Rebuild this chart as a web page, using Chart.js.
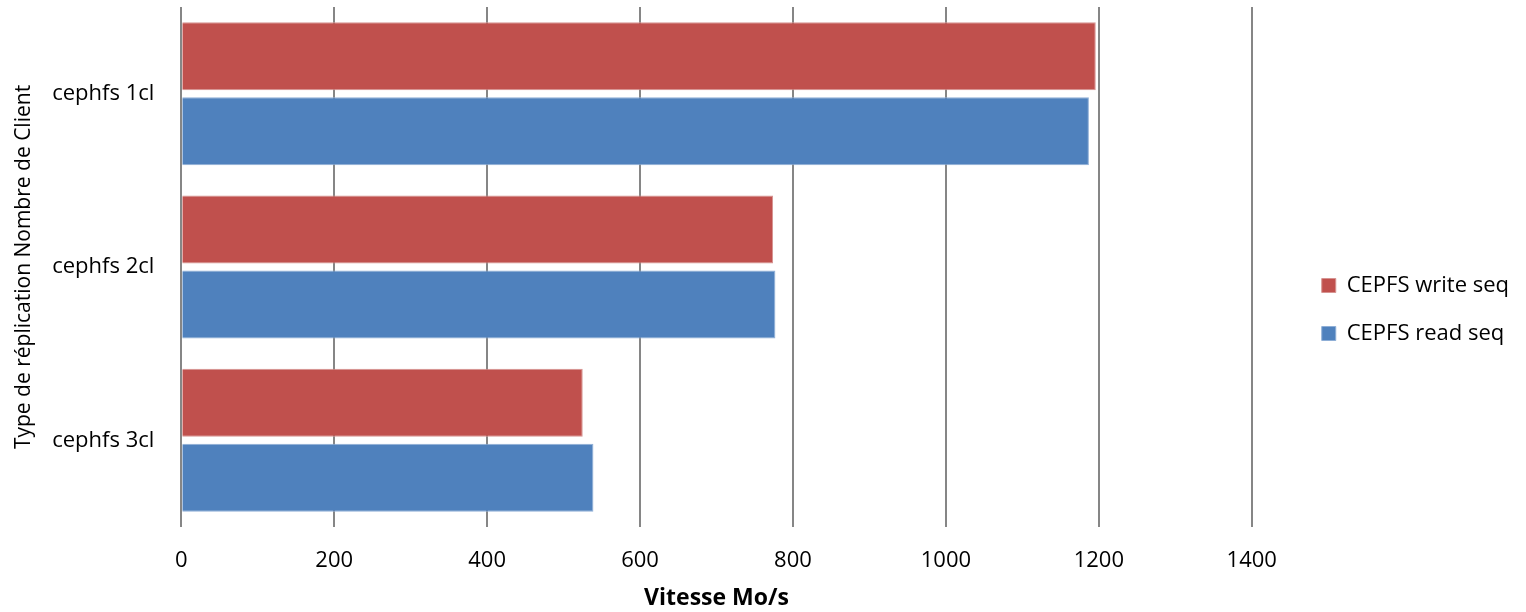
<!DOCTYPE html>
<html>
<head>
<meta charset="utf-8">
<script src="https://cdn.jsdelivr.net/npm/chart.js@4.4.0/dist/chart.umd.min.js"></script>
<style>
  html, body { margin: 0; padding: 0; background: #fff; }
  #wrap { width: 1526px; height: 612px; }
</style>
</head>
<body>
<div id="wrap"><canvas id="speedChart" width="1526" height="612"></canvas></div>
<script>
// data
var categories = ["cephfs 1cl", "cephfs 2cl", "cephfs 3cl"];
var writeSeq = [1196, 774, 525];
var readSeq = [1187, 777, 539];
var xTicks = [0, 200, 400, 600, 800, 1000, 1200, 1400];

var font = "'Open Sans', sans-serif";
var legendGap = 44;
var xTickPad = 21;
var yTickPad = 27;

// leave some blank space between plot and legend (like excel does)
var legendGapPlugin = {
    id: "legendGap",
    beforeLayout: function(chart) {
        var legend = chart.legend;
        if (legend && !legend._gapWrapped) {
            var fit = legend.fit;
            legend.fit = function() {
                fit.call(this);
                this.width += legendGap;
            };
            legend._gapWrapped = true;
        }
    },
    afterLayout: function(chart) {
        chart.legend.left += legendGap;
    }
};

new Chart(document.getElementById("speedChart"), {
    type: "bar",
    data: {
        labels: categories,
        datasets: [{
                label: "CEPFS write seq",
                data: writeSeq,
                backgroundColor: "#C0504D",
                borderColor: "#D69391",
                borderWidth: 1
            },
            {
                label: "CEPFS read seq",
                data: readSeq,
                backgroundColor: "#4F81BD",
                borderColor: "#8EAED6",
                borderWidth: 1
            }
        ]
    },
    plugins: [legendGapPlugin],
    options: {
        indexAxis: "y",
        responsive: false,
        animation: false,
        categoryPercentage: 0.865,
        barPercentage: 0.907,
        layout: { padding: { top: 7, right: 7, bottom: 0, left: 0 } },
        plugins: {
            legend: {
                position: "right",
                labels: {
                    boxWidth: 14,
                    boxHeight: 14,
                    padding: 26,
                    color: "#000",
                    font: { family: font, size: 22 }
                }
            },
            tooltip: { enabled: false }
        },
        scales: {
            x: {
                min: 0,
                max: 1400,
                afterBuildTicks: function(scale) {
                    scale.ticks = xTicks.map(function(v) { return { value: v }; });
                },
                // chart.js counts tick padding twice, take one back
                afterFit: function(scale) {
                    scale.height -= xTickPad;
                },
                grid: { color: "#868686", lineWidth: 2, drawTicks: false },
                border: { display: false },
                ticks: {
                    padding: xTickPad,
                    color: "#000",
                    font: { family: font, size: 22 },
                    callback: function(v) { return String(v); }
                },
                title: {
                    display: true,
                    text: "Vitesse Mo/s",
                    color: "#000",
                    padding: { top: 10, bottom: 0 },
                    font: { family: font, size: 23, weight: "bold" }
                }
            },
            y: {
                afterFit: function(scale) {
                    scale.paddingTop = 0;
                    scale.paddingBottom = 0;
                    scale.width -= yTickPad;
                },
                grid: { display: false, drawTicks: false },
                border: { display: false },
                ticks: {
                    padding: yTickPad,
                    color: "#000",
                    font: { family: font, size: 22 }
                },
                title: {
                    display: true,
                    text: "Type de réplication Nombre de Client",
                    color: "#000",
                    padding: { top: 11, bottom: 16 },
                    font: { family: font, size: 21 }
                }
            }
        }
    }
});
</script>
</body>
</html>
